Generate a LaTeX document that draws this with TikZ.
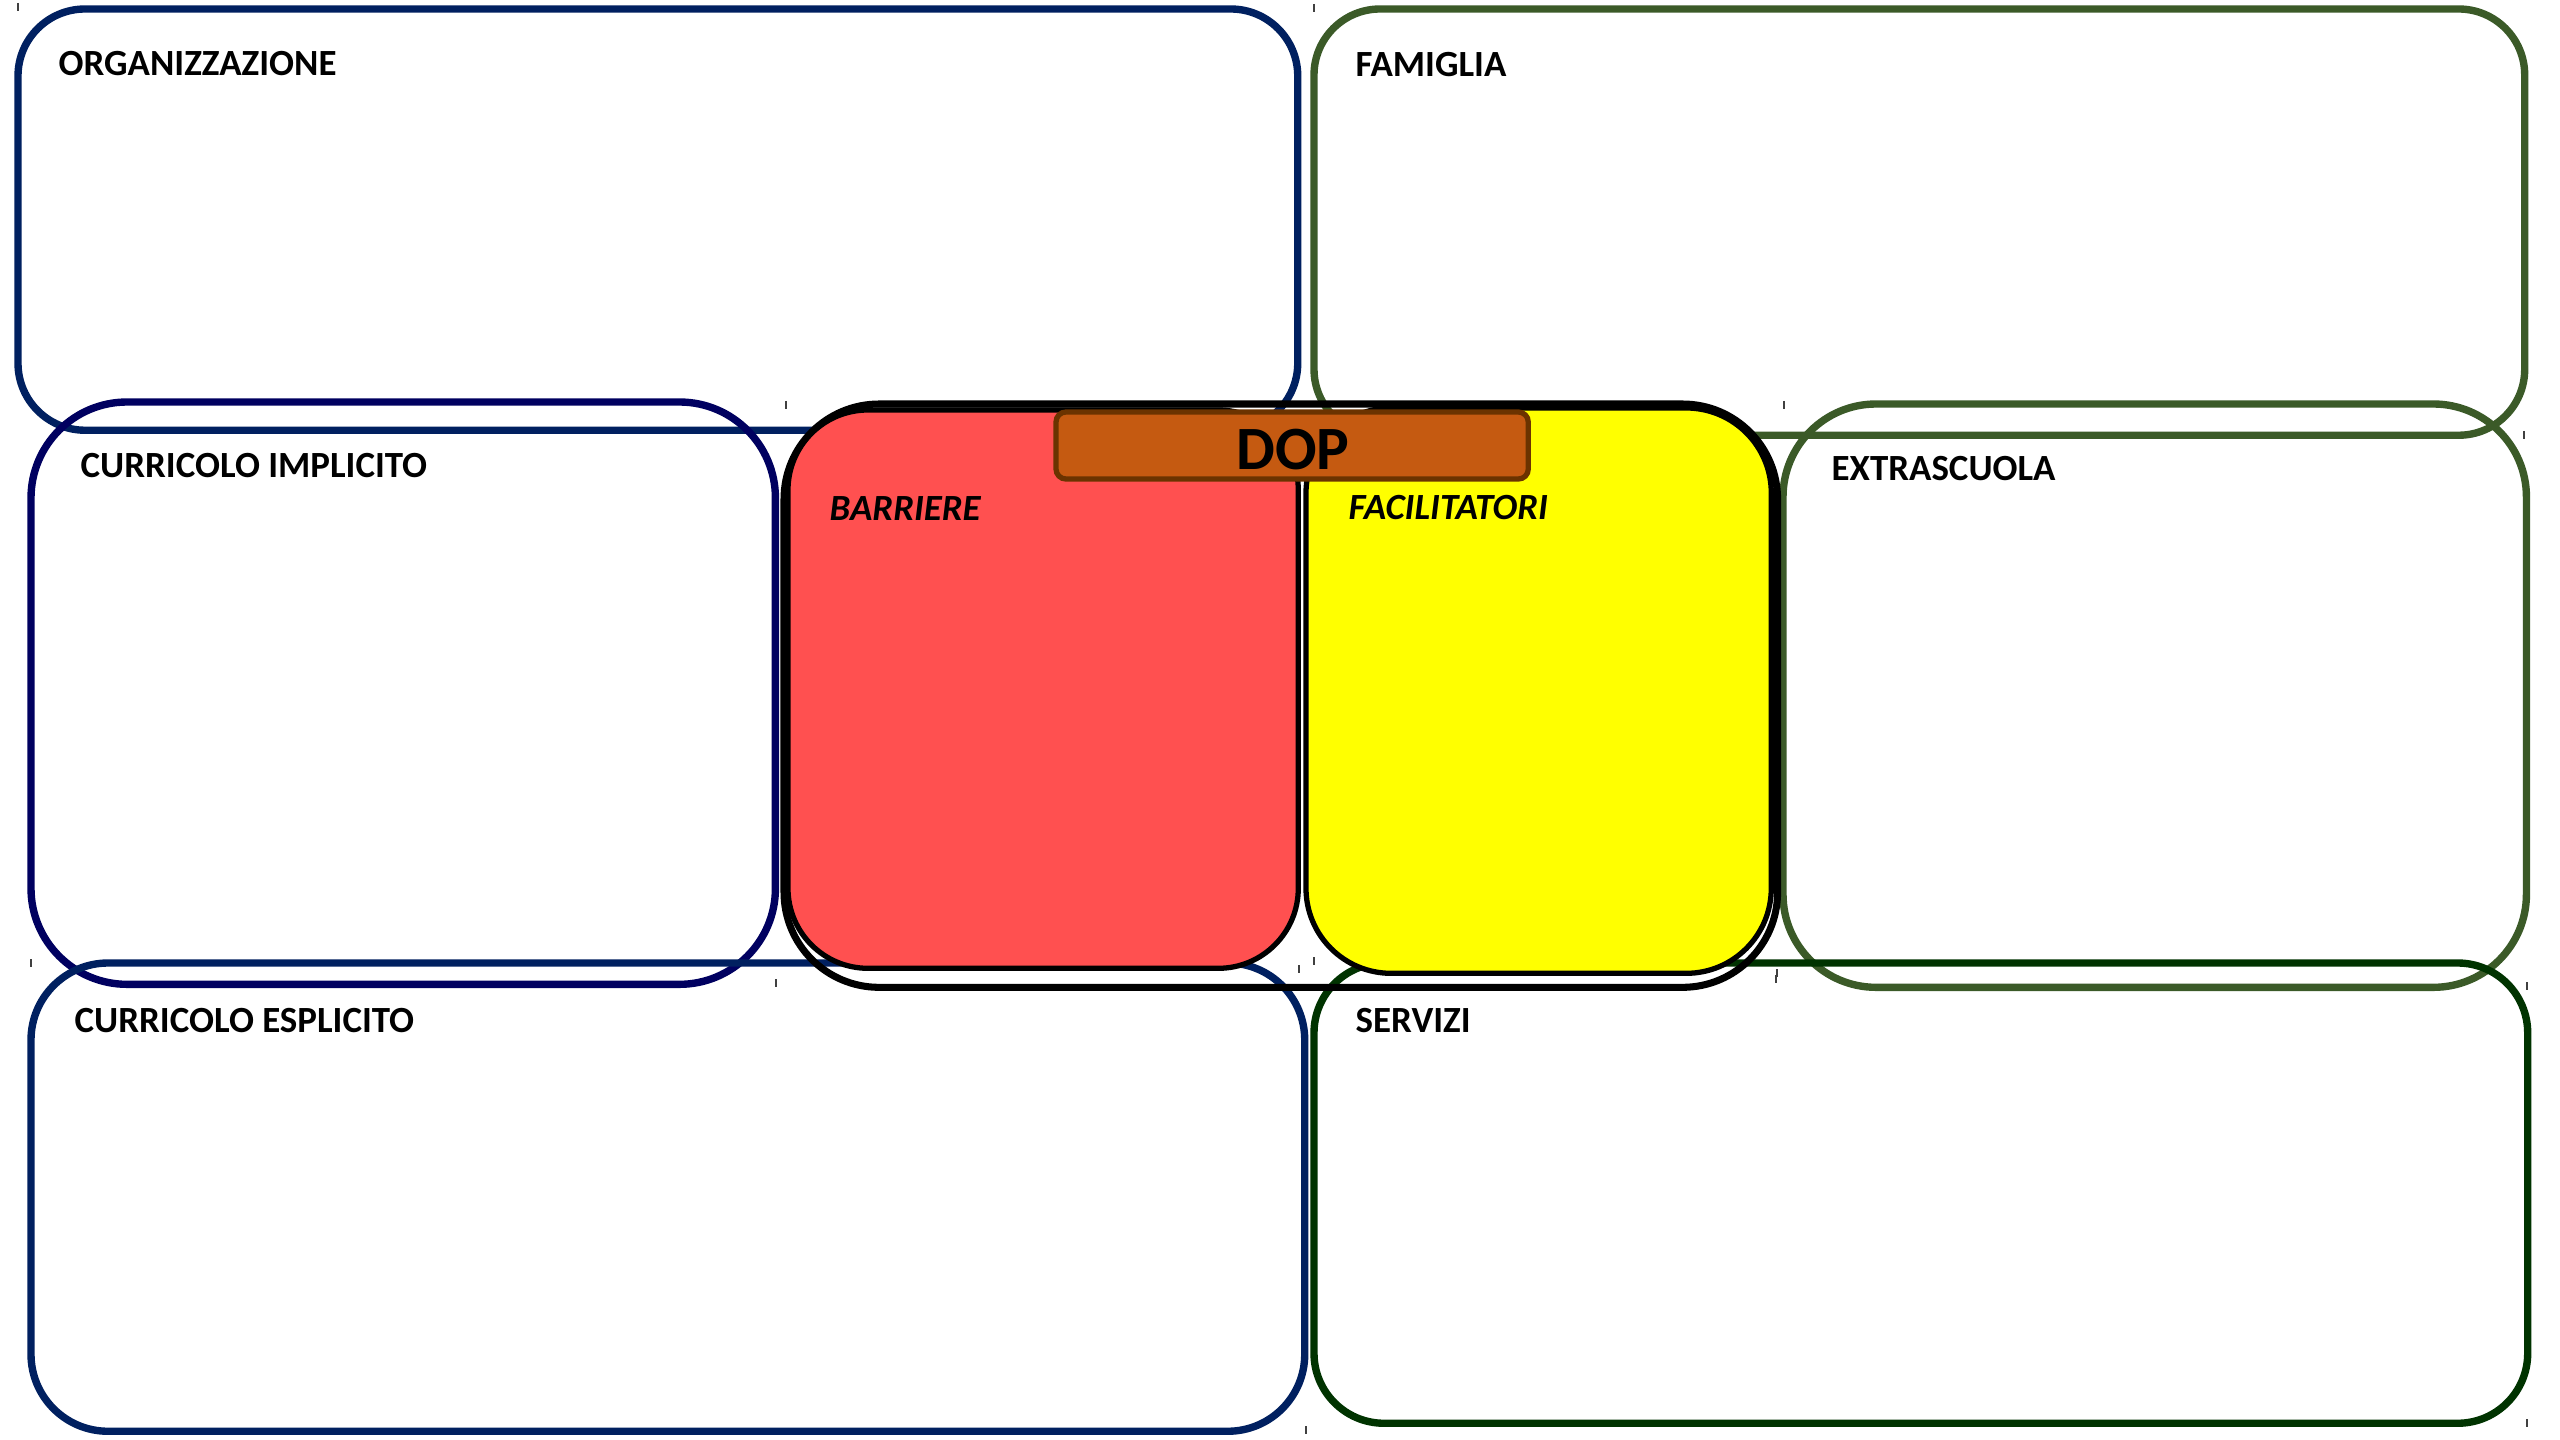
\documentclass[tikz,border=0pt]{standalone}
\usepackage{fontspec}
\setmainfont{Carlito}
\definecolor{navyA}{HTML}{002060}
\definecolor{navyB}{HTML}{000060}
\definecolor{oliveG}{HTML}{3B5A28}
\definecolor{darkG}{HTML}{003300}
\definecolor{redF}{HTML}{FF5050}
\definecolor{yelF}{HTML}{FFFF00}
\definecolor{dopF}{HTML}{C55A11}
\definecolor{dopB}{HTML}{6B3300}
\begin{document}
\begin{tikzpicture}[x=0.01cm,y=-0.01cm,
  frame/.style={draw=#1, line width=2.1pt, inner sep=0pt, outer sep=0pt, anchor=north west},
  blackbox/.style={draw=black, line width=1.5pt, inner sep=0pt, outer sep=0pt, anchor=north west},
  lbl/.style={anchor=base west, inner sep=0pt, font=\fontsize{10.5}{12}\selectfont\bfseries},
  ilbl/.style={anchor=base west, inner sep=0pt, font=\fontsize{10.5}{12}\selectfont\bfseries\itshape},
  tickmark/.style={draw=black!75, line width=0.35pt}]
\useasboundingbox[fill=white] (0,0) rectangle (2560,1440);

% outer frames
\node[frame=navyA, rounded corners=0.67cm, minimum width=12.79cm, minimum height=4.21cm] (org) at (18,9) {};
\node[frame=oliveG, rounded corners=0.66cm, minimum width=12.10cm, minimum height=4.26cm] (fam) at (1314,9) {};
\node[frame=navyB, rounded corners=0.96cm, minimum width=7.44cm, minimum height=5.82cm] (cimpl) at (31,402) {};
\node[frame=oliveG, rounded corners=0.93cm, minimum width=7.43cm, minimum height=5.83cm] (extra) at (1783,404) {};
\node[frame=navyA, rounded corners=0.77cm, minimum width=12.73cm, minimum height=4.68cm] (cespl) at (31,963) {};
\node[frame=darkG, rounded corners=0.70cm, minimum width=12.13cm, minimum height=4.60cm] (serv) at (1314,963) {};

% central group
\node[blackbox, line width=2pt, rounded corners=0.95cm, minimum width=9.93cm, minimum height=5.83cm] (dopgroup) at (784,404) {};
\node[blackbox, fill=redF, rounded corners=0.80cm, minimum width=5.10cm, minimum height=5.58cm] (barr) at (788,410) {};
\node[blackbox, fill=yelF, rounded corners=0.85cm, minimum width=4.65cm, minimum height=5.65cm] (facil) at (1306,408) {};
\node[draw=dopB, fill=dopF, line width=1.5pt, rounded corners=0.1cm, inner sep=0pt, outer sep=0pt,
      minimum width=4.72cm, minimum height=0.67cm, anchor=north west] (dop) at (1056,412) {};
\node[anchor=base, inner sep=0pt, font=\fontsize{17.5}{20}\selectfont\bfseries] (doptxt) at (1293,470) {DOP};

% labels
\node[lbl] (torg) at (58,76) {ORGANIZZAZIONE};
\node[lbl] (tfam) at (1355,77) {FAMIGLIA};
\node[lbl] (tcimpl) at (80,478) {CURRICOLO IMPLICITO};
\node[lbl] (textra) at (1831,481) {EXTRASCUOLA};
\node[lbl] (tcespl) at (74,1032) {CURRICOLO ESPLICITO};
\node[lbl] (tserv) at (1355,1032) {SERVIZI};
\node[ilbl] (tbarr) at (829,521) {BARRIERE};
\node[ilbl] (tfacil) at (1348,520) {FACILITATORI};

% small tick marks
\foreach \px/\py in {18/3, 786/401, 1314/4, 1784/401, 2524/431, 776/979, 1314/957, 1299/965, 31/959, 1776/975, 2527/982, 1306/1426, 2527/1419, 1777/969}
  \draw[tickmark] (\px,\py) -- ++(0,8);
\end{tikzpicture}
\end{document}
